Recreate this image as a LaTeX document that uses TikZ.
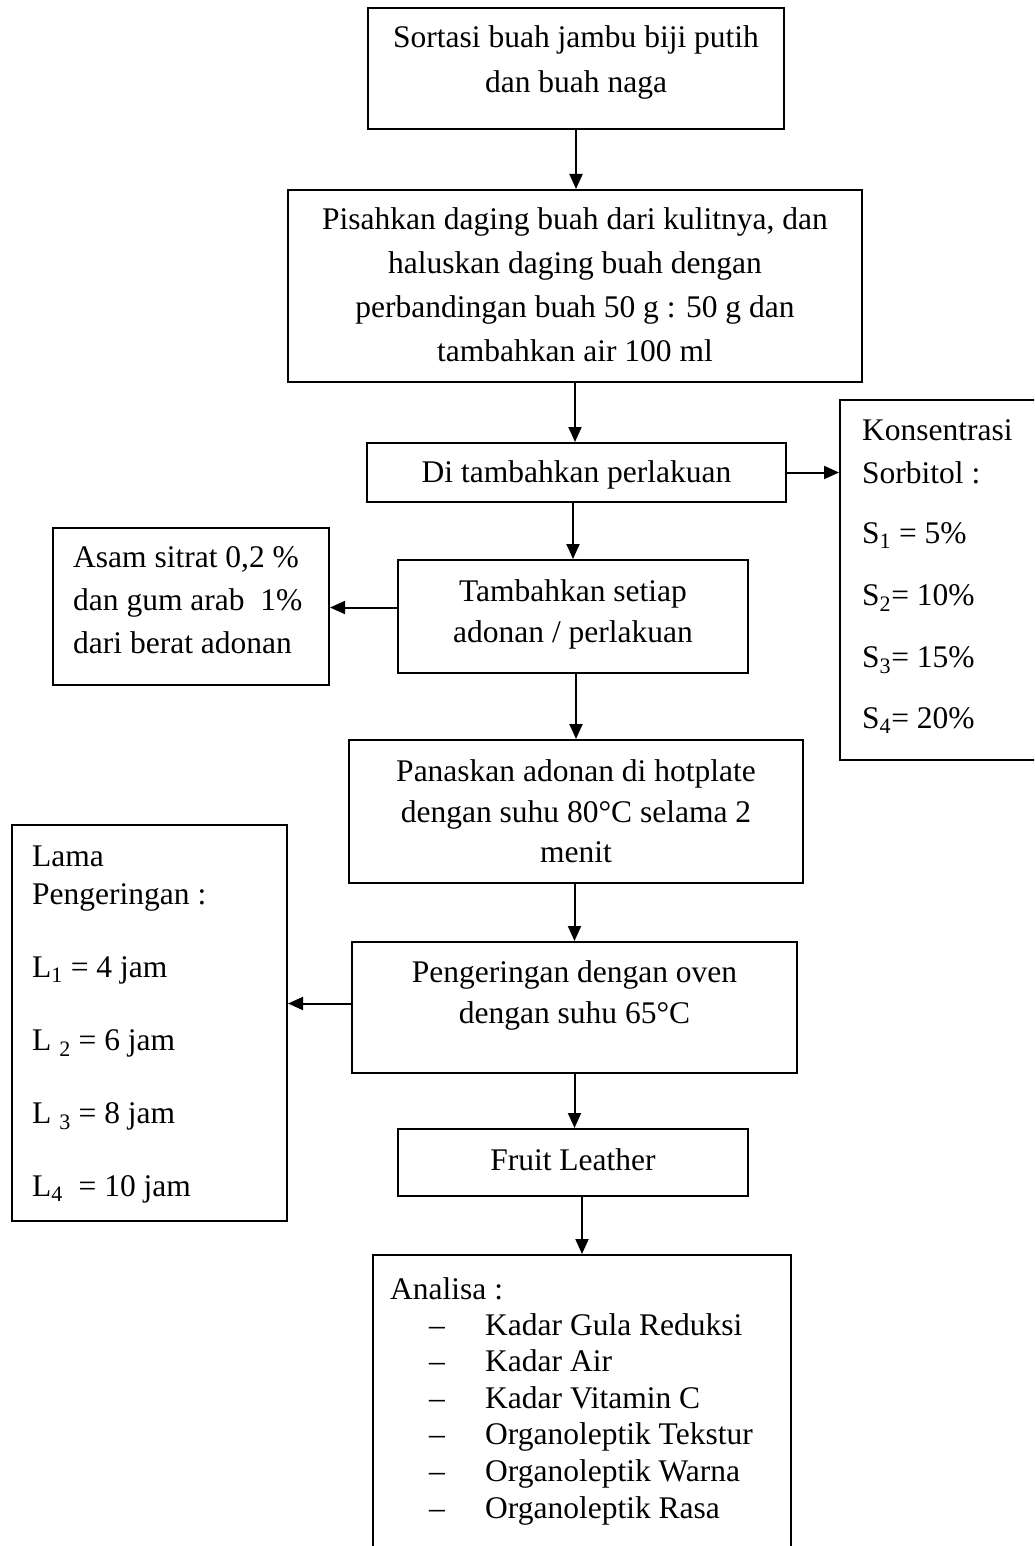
\documentclass[tikz,border=0pt]{standalone}
\usepackage{fontspec}
\setmainfont{Liberation Serif}
\usetikzlibrary{arrows.meta}
\begin{document}
\begin{tikzpicture}[x=1pt,y=-1pt,
  box/.style={draw,line width=2pt,rectangle,inner sep=0pt},
  arr/.style={line width=2pt,-{Triangle[length=15pt,width=13pt]}},
  ct/.style={inner sep=0pt,anchor=base,font=\fontsize{31.5}{36}\selectfont},
  lt/.style={inner sep=0pt,anchor=base west,font=\fontsize{31.5}{36}\selectfont}]
\fill[white] (0,0) rectangle (1034,1546);
\useasboundingbox (0,0) rectangle (1034,1546);
\begin{scope}
\clip (0,0) rectangle (1034,1546);
% boxes
\node[box,minimum width=416pt,minimum height=121pt] (b1) at (576,68.5) {};
\node[box,minimum width=574pt,minimum height=192pt] (b2) at (575,286) {};
\node[box,minimum width=419pt,minimum height=59pt] (b3) at (576.5,472.5) {};
\node[box,minimum width=220pt,minimum height=360pt] (kons) at (950,580) {};
\node[box,minimum width=350pt,minimum height=113pt] (b4) at (573,616.5) {};
\node[box,minimum width=276pt,minimum height=157pt] (asam) at (191,606.5) {};
\node[box,minimum width=454pt,minimum height=143pt] (b5) at (576,811.5) {};
\node[box,minimum width=445pt,minimum height=131pt] (b6) at (574.5,1007.5) {};
\node[box,minimum width=275pt,minimum height=396pt] (lama) at (149.5,1023) {};
\node[box,minimum width=350pt,minimum height=67pt] (fruit) at (573,1162.5) {};
\node[box,minimum width=418pt,minimum height=345pt] (an) at (582,1427.5) {};
% texts
\node[ct] (t1a) at (576,48) {Sortasi buah jambu biji putih};
\node[ct] (t1b) at (576,93) {dan buah naga};
\node[ct] (t2a) at (575,230) {Pisahkan daging buah dari kulitnya, dan};
\node[ct] (t2b) at (575,273) {haluskan daging buah dengan};
\node[ct] (t2c) at (575,317) {perbandingan buah 50 g : 50 g dan};
\node[ct] (t2d) at (575,361) {tambahkan air 100 ml};
\node[ct] (t3a) at (576.5,482) {Di tambahkan perlakuan};
\node[lt] (tka) at (862,440) {Konsentrasi};
\node[lt] (tkb) at (862,483) {Sorbitol :};
\node[lt] (tkc) at (862,543) {S\textsubscript{1} = 5\%};
\node[lt] (tkd) at (862,605) {S\textsubscript{2}= 10\%};
\node[lt] (tke) at (862,667) {S\textsubscript{3}= 15\%};
\node[lt] (tkf) at (862,728) {S\textsubscript{4}= 20\%};
\node[ct] (t4a) at (573,601) {Tambahkan setiap};
\node[ct] (t4b) at (573,642) {adonan / perlakuan};
\node[lt] (tsa) at (73,567) {Asam sitrat 0,2 \%};
\node[lt] (tsb) at (73,610) {dan gum arab \ 1\%};
\node[lt] (tsc) at (73,653) {dari berat adonan};
\node[ct] (t5a) at (576,781) {Panaskan adonan di hotplate};
\node[ct] (t5b) at (576,822) {dengan suhu 80°C selama 2};
\node[ct] (t5c) at (576,862) {menit};
\node[ct] (t6a) at (574.5,982) {Pengeringan dengan oven};
\node[ct] (t6b) at (574.5,1023) {dengan suhu 65°C};
\node[lt] (tla) at (32,866) {Lama};
\node[lt] (tlb) at (32,904) {Pengeringan :};
\node[lt] (tlc) at (32,977) {L\textsubscript{1} = 4 jam};
\node[lt] (tld) at (32,1050) {L \textsubscript{2} = 6 jam};
\node[lt] (tle) at (32,1123) {L \textsubscript{3} = 8 jam};
\node[lt] (tlf) at (32,1196) {L\textsubscript{4} \ = 10 jam};
\node[ct] (t7a) at (573,1170) {Fruit Leather};
\node[lt] (taa) at (390,1299) {Analisa :};
\foreach \i/\t in {0/Kadar Gula Reduksi,1/Kadar Air,2/Kadar Vitamin C,3/Organoleptik Tekstur,4/Organoleptik Warna,5/Organoleptik Rasa}{
  \node[lt] (ad\i) at (429,1335+36.6*\i) {–};
  \node[lt] (ai\i) at (485,1335+36.6*\i) {\t};
}
% connectors
\draw[arr] (b1.south) -- (b1.south |- b2.north);
\draw[arr] (b2.south) -- (b2.south |- b3.north);
\draw[arr] (b3.east) -- (b3.east -| kons.west);
\draw[arr] (b4.north |- b3.south) -- (b4.north);
\coordinate (l4) at ([yshift=9pt]b4.west);
\draw[arr] (l4) -- (l4 -| asam.east);
\draw[arr] (b5.north |- b4.south) -- (b5.north);
\draw[arr] (b6.north |- b5.south) -- (b6.north);
\coordinate (l6) at ([yshift=4pt]b6.west);
\draw[arr] (l6) -- (l6 -| lama.east);
\draw[arr] (b6.south) -- (b6.south |- fruit.north);
\draw[arr] (an.north |- fruit.south) -- (an.north);
\end{scope}
\end{tikzpicture}
\end{document}
